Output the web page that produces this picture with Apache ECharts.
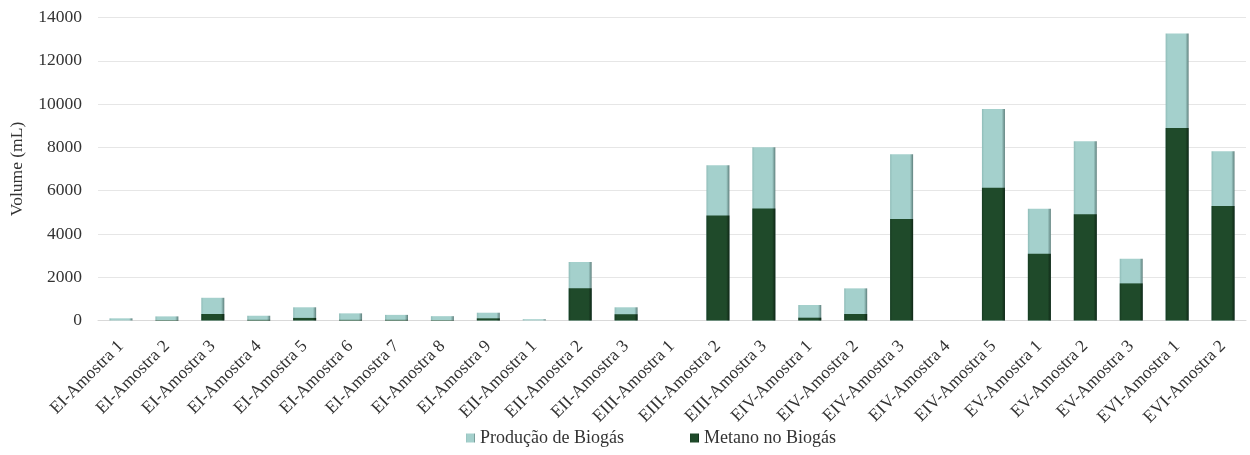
<!DOCTYPE html>
<html>
<head>
<meta charset="utf-8">
<script src="https://cdn.jsdelivr.net/npm/echarts@6/dist/echarts.min.js"></script>
<style>
  html, body { margin: 0; padding: 0; background: #fff; }
  #chart { width: 1250px; height: 455px; }
</style>
</head>
<body>
<div id="chart"></div>
<script>
// Sample names per experiment
const categories = [
  'EI-Amostra 1', 'EI-Amostra 2', 'EI-Amostra 3', 'EI-Amostra 4', 'EI-Amostra 5',
  'EI-Amostra 6', 'EI-Amostra 7', 'EI-Amostra 8', 'EI-Amostra 9',
  'EII-Amostra 1', 'EII-Amostra 2', 'EII-Amostra 3',
  'EIII-Amostra 1', 'EIII-Amostra 2', 'EIII-Amostra 3',
  'EIV-Amostra 1', 'EIV-Amostra 2', 'EIV-Amostra 3', 'EIV-Amostra 4', 'EIV-Amostra 5',
  'EV-Amostra 1', 'EV-Amostra 2', 'EV-Amostra 3',
  'EVI-Amostra 1', 'EVI-Amostra 2'
];

// Total biogas volume (mL)
const producaoBiogas = [
  100, 190, 1050, 220, 610,
  330, 260, 200, 360,
  60, 2700, 610,
  0, 7175, 8010,
  715, 1485, 7685, 0, 9775,
  5160, 8285, 2850,
  13255, 7820
];

// Methane fraction of that volume (mL)
const metanoBiogas = [
  0, 20, 300, 30, 120,
  30, 30, 20, 100,
  0, 1490, 290,
  0, 4855, 5180,
  130, 300, 4685, 0, 6130,
  3085, 4915, 1715,
  8900, 5285
];

const yTicks = { min: 0, max: 14000, interval: 2000 };

const seriesNames = ['Produção de Biogás', 'Metano no Biogás'];

const serif = '"Liberation Serif", "DejaVu Serif", serif';

// Bevelled look: darker side strips around a flat face
function barFill(light, mid, dark) {
  return new echarts.graphic.LinearGradient(0, 0, 1, 0, [
    { offset: 0, color: mid },
    { offset: 0.1, color: light },
    { offset: 0.86, color: light },
    { offset: 1, color: dark }
  ]);
}

const chart = echarts.init(document.getElementById('chart'), null, { renderer: 'canvas' });

chart.setOption({
  animation: false,
  backgroundColor: '#ffffff',
  textStyle: { fontFamily: serif },
  grid: { left: 96, right: 4, top: 17.5, bottom: 134.5, containLabel: false },
  legend: {
    bottom: 3,
    left: 461,
    itemWidth: 9,
    itemHeight: 9,
    itemGap: 66,
    icon: 'rect',
    textStyle: { fontSize: 18, color: '#333', fontFamily: serif },
    data: seriesNames
  },
  xAxis: {
    type: 'category',
    data: categories,
    axisLine: { show: true, lineStyle: { color: '#d9d9d9', width: 1 } },
    axisTick: { show: false },
    axisLabel: {
      rotate: 45,
      interval: 0,
      margin: 23,
      fontSize: 17.5,
      color: '#333',
      fontFamily: serif
    }
  },
  yAxis: {
    type: 'value',
    min: yTicks.min,
    max: yTicks.max,
    interval: yTicks.interval,
    name: 'Volume (mL)',
    nameLocation: 'middle',
    nameGap: 72,
    nameTextStyle: { fontSize: 17.5, color: '#333', fontFamily: serif },
    axisLine: { show: false },
    axisTick: { show: false },
    axisLabel: {
      fontSize: 17.5,
      color: '#333',
      margin: 16,
      fontFamily: serif,
      formatter: (v) => String(v)
    },
    splitLine: { lineStyle: { color: '#e6e6e6', width: 1 } }
  },
  series: [
    {
      name: seriesNames[0],
      type: 'bar',
      data: producaoBiogas,
      barWidth: 23,
      barGap: '-100%',
      z: 2,
      itemStyle: {
        color: barFill('#a4d0cc', '#8fbcb8', '#5e7f7c'),
        borderWidth: 0
      }
    },
    {
      name: seriesNames[1],
      type: 'bar',
      data: metanoBiogas,
      barWidth: 23,
      barGap: '-100%',
      z: 3,
      itemStyle: {
        color: barFill('#1f4a2a', '#173b21', '#0f2716'),
        borderWidth: 0
      }
    }
  ]
});
</script>
</body>
</html>
